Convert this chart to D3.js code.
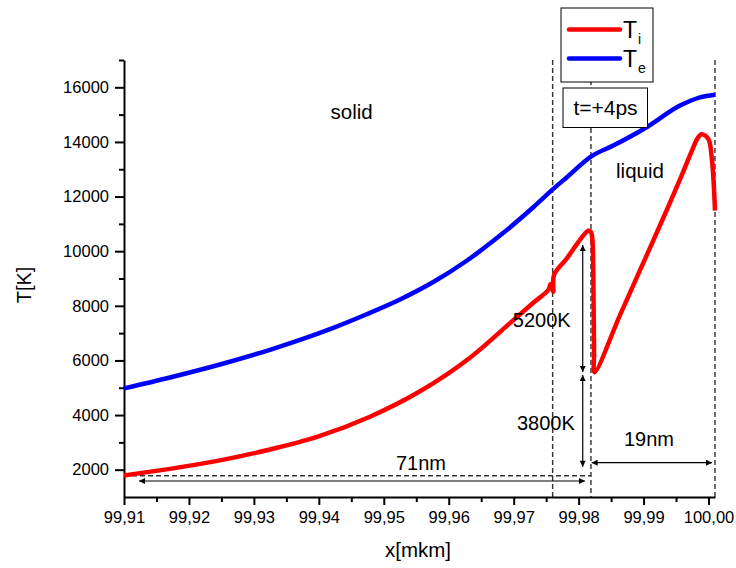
<!DOCTYPE html>
<html>
<head>
<meta charset="utf-8">
<script src="https://cdn.jsdelivr.net/npm/d3@7"></script>
<style>
  body { margin: 0; background: #fff; }
  text { font-family: "Liberation Sans", Arial, sans-serif; fill: #000; }
</style>
</head>
<body>
<svg id="chart" width="736" height="568"></svg>
<script>
// tick values
const xTicks = [99.91, 99.92, 99.93, 99.94, 99.95, 99.96, 99.97, 99.98, 99.99, 100.00];
const xMinor = [99.915, 99.925, 99.935, 99.945, 99.955, 99.965, 99.975, 99.985, 99.995];
const yTicks = [2000, 4000, 6000, 8000, 10000, 12000, 14000, 16000];
const yMinor = [3000, 5000, 7000, 9000, 11000, 13000, 15000, 17000];

// electron temperature T_e
const teX = [99.91000, 99.91708, 99.92478, 99.93248, 99.93710, 99.94223, 99.94737, 99.95250,
             99.95762, 99.96277, 99.96789, 99.97302, 99.97610, 99.97816, 99.98201, 99.98534,
             99.99048, 99.99561, 99.99869, 100.001];
const teY = [4975, 5377, 5852, 6389, 6750, 7193, 7690, 8230,
             8870, 9650, 10570, 11610, 12280, 12700, 13480, 13866,
             14536, 15330, 15633, 15730];

// ion temperature T_i
const tiX = [99.91000, 99.91708, 99.92478, 99.93248, 99.94018, 99.94788, 99.95558, 99.96328,
             99.96943, 99.97302, 99.97533, 99.97570, 99.97610, 99.97621, 99.97816, 99.98149,
             99.98190, 99.98212, 99.98226, 99.98238, 99.98246, 99.98637, 99.98894, 99.99125,
             99.99356, 99.99561, 99.99766, 99.99830, 99.99895, 99.99997, 100.00049, 100.001];
const tiY = [1790, 2030, 2340, 2740, 3240, 3940, 4870, 6100,
             7365, 8110, 8580, 8798, 8517, 9128, 9728, 10750,
             10700, 10420, 9190, 6300, 5570, 7660, 9030, 10260,
             11500, 12630, 13804, 14130, 14280, 14111, 13438, 11488];

// phase boundaries (dashed verticals)
const boundaries = [99.976, 99.9819, 100.001];

// dimension arrows: [x1, y1, x2, y2]
const arrows = [
  [99.91231, 1586, 99.98098, 1586],
  [99.98201, 2256, 100.00054, 2256],
  [99.98063, 10226, 99.98063, 5577],
  [99.98063, 5467, 99.98063, 2109]
];
const labels = ["71nm", "19nm", "5200K", "3800K", "solid", "liquid"];
const labelX = [99.95573, 99.99084, 99.97432, 99.97495, 99.94506, 99.98945];
const labelY = [1989, 2878, 7235, 3453, 14840, 12680];

const margin = {top: 60, right: 21, bottom: 71, left: 124};
const svg = d3.select("#chart");
const width = +svg.attr("width") - margin.left - margin.right;
const height = +svg.attr("height") - margin.top - margin.bottom;

const x = d3.scaleLinear().domain([99.91, 100.001]).range([margin.left, margin.left + width]);
const y = d3.scaleLinear().domain([1000, 17000]).range([margin.top + height, margin.top]);

svg.append("defs").append("marker")
    .attr("id", "arrow")
    .attr("viewBox", "0 0 10 10")
    .attr("refX", 10).attr("refY", 5)
    .attr("markerWidth", 9).attr("markerHeight", 6)
    .attr("markerUnits", "userSpaceOnUse")
    .attr("orient", "auto-start-reverse")
  .append("path")
    .attr("d", "M0,0L10,5L0,10z")
    .attr("fill", "#000");

// dashed guides
svg.append("g").selectAll("line")
  .data(boundaries)
  .join("line")
    .attr("x1", d => x(d)).attr("x2", d => x(d))
    .attr("y1", (d, i) => i === 1 ? 8 : y(17000))
    .attr("y2", y(1000))
    .attr("stroke", "#333").attr("stroke-width", 1.4)
    .attr("stroke-dasharray", "5,3");

svg.append("line")
    .attr("x1", x(99.91)).attr("x2", x(boundaries[1]))
    .attr("y1", y(1780)).attr("y2", y(1780))
    .attr("stroke", "#333").attr("stroke-width", 1.4)
    .attr("stroke-dasharray", "5,3");

// arrows
svg.append("g").selectAll("line")
  .data(arrows)
  .join("line")
    .attr("x1", d => x(d[0])).attr("y1", d => y(d[1]))
    .attr("x2", d => x(d[2])).attr("y2", d => y(d[3]))
    .attr("stroke", "#000").attr("stroke-width", 1.2)
    .attr("marker-start", "url(#arrow)")
    .attr("marker-end", "url(#arrow)");

// axes
svg.append("g")
    .attr("transform", `translate(0, ${y(1000)})`)
    .call(d3.axisBottom(x).tickValues(xTicks).tickSize(8).tickSizeOuter(0).tickPadding(6)
      .tickFormat(d => d3.format(".2f")(d).replace(".", ",")));
svg.append("g")
    .attr("transform", `translate(0, ${y(1000)})`)
    .call(d3.axisBottom(x).tickValues(xMinor).tickSize(5).tickSizeOuter(0).tickFormat(""))
    .call(g => g.select(".domain").remove());

svg.append("g")
    .attr("transform", `translate(${x(99.91)}, 0)`)
    .call(d3.axisLeft(y).tickValues(yTicks).tickSize(9).tickSizeOuter(0).tickPadding(6)
      .tickFormat(d3.format("d")));
svg.append("g")
    .attr("transform", `translate(${x(99.91)}, 0)`)
    .call(d3.axisLeft(y).tickValues(yMinor).tickSize(5).tickSizeOuter(0).tickFormat(""))
    .call(g => g.select(".domain").remove());

svg.selectAll(".domain, .tick line").attr("stroke", "#000").attr("stroke-width", 2);
svg.selectAll(".tick text").attr("font-size", "16.5px").attr("fill", "#000")
    .attr("font-family", "'Liberation Sans', Arial, sans-serif");

// curves
const smooth = d3.line().x(d => x(d[0])).y(d => y(d[1])).curve(d3.curveMonotoneX);
const sharp = d3.line().x(d => x(d[0])).y(d => y(d[1])).curve(d3.curveCatmullRom.alpha(0.5));
svg.append("path")
    .datum(teX.map((v, i) => [v, teY[i]]))
    .attr("fill", "none").attr("stroke", "#0000ff").attr("stroke-width", 4.5)
    .attr("stroke-linejoin", "round")
    .attr("d", smooth);
svg.append("path")
    .datum(tiX.map((v, i) => [v, tiY[i]]))
    .attr("fill", "none").attr("stroke", "#ff0000").attr("stroke-width", 4.5)
    .attr("stroke-linejoin", "round")
    .attr("d", sharp);

// annotation text
svg.append("g").selectAll("text")
  .data(labels)
  .join("text")
    .attr("x", (d, i) => x(labelX[i]))
    .attr("y", (d, i) => y(labelY[i]))
    .attr("text-anchor", "middle")
    .attr("font-size", (d, i) => i >= 4 ? "20.5px" : "20px")
    .text(d => d);

// axis titles
svg.append("text")
    .attr("x", 418).attr("y", 557)
    .attr("text-anchor", "middle").attr("font-size", "20.5px")
    .text("x[mkm]");
svg.append("text")
    .attr("transform", "translate(31, 285) rotate(-90)")
    .attr("text-anchor", "middle").attr("font-size", "20px")
    .text("T[K]");

// legend
const legend = svg.append("g");
legend.append("rect")
    .attr("x", 561).attr("y", 8).attr("width", 92).attr("height", 74)
    .attr("fill", "#fff").attr("stroke", "#000").attr("stroke-width", 1);
const series = [["i", "#ff0000"], ["e", "#0000ff"]];
series.forEach(([sub, color], i) => {
  const ly = 29.5 + i * 29;
  legend.append("line")
      .attr("x1", 569).attr("x2", 620).attr("y1", ly).attr("y2", ly)
      .attr("stroke", color).attr("stroke-width", 4.5).attr("stroke-linecap", "round");
  const t = legend.append("text")
      .attr("x", 623).attr("y", ly + 8.5).attr("font-size", "23px");
  t.append("tspan").text("T");
  t.append("tspan").attr("dy", 6).attr("dx", 1).attr("font-size", "14px").text(sub);
});

// time box
svg.append("rect")
    .attr("x", 563).attr("y", 88).attr("width", 84.5).attr("height", 39.5)
    .attr("fill", "#fff").attr("stroke", "#000").attr("stroke-width", 1);
svg.append("text")
    .attr("x", 605.5).attr("y", 115)
    .attr("text-anchor", "middle").attr("font-size", "21px")
    .text("t=+4ps");
</script>
</body>
</html>
